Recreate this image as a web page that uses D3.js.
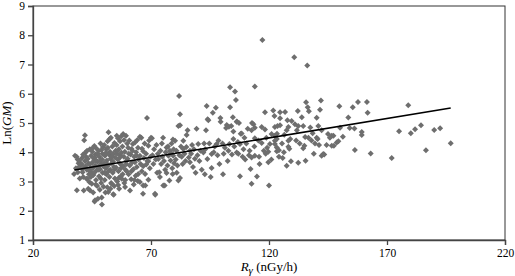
<!DOCTYPE html>
<html>
<head>
<meta charset="utf-8">
<script src="https://cdn.jsdelivr.net/npm/d3@7"></script>
<style>
  body { margin: 0; background: #fff; }
  text { font-family: "Liberation Serif", "Times New Roman", serif; }
</style>
</head>
<body>
<div id="chart"></div>
<script>
// x ticks / y ticks
var xTicks = [20, 70, 120, 170, 220];
var yTicks = [1, 2, 3, 4, 5, 6, 7, 8, 9];

// trend line: Ln(GM) = a + b * R
var trendA = 2.898, trendB = 0.01328;
var trendFrom = 37.5, trendTo = 197;

// R gamma (nGy/h)
var rGamma = [
  37.4,37.8,38.5,38.9,39.3,39.6,38.2,39.0,39.8,38.6,39.5,
  40.3,40.6,40.9,41.0,41.3,41.5,41.7,42.0,42.2,42.5,42.7,42.0,42.3,42.8,43.0,43.2,43.5,43.7,43.9,44.1,44.2,44.4,44.6,44.8,44.9,40.8,41.6,42.9,43.4,44.0,44.5,41.2,43.8,
  45.1,45.2,45.3,45.5,45.6,45.8,46.0,46.1,46.3,46.3,46.5,46.7,46.9,47.0,47.2,47.3,47.5,47.6,47.8,48.0,48.1,48.3,48.4,48.6,48.8,48.9,49.1,49.2,49.3,49.5,49.6,49.8,49.9,45.4,46.2,46.8,47.4,48.2,48.7,49.4,45.9,47.9,49.0,46.6,48.5,
  50.1,50.2,50.4,50.5,50.7,50.8,51.0,51.1,51.3,51.5,51.6,51.8,52.0,51.9,52.2,52.4,52.5,52.7,52.9,53.0,53.1,53.3,53.4,53.6,53.8,54.0,54.0,54.2,54.3,54.5,54.7,54.8,55.0,50.9,51.4,52.0,52.6,53.2,53.9,54.4,50.3,52.8,54.6,51.7,
  55.2,55.4,55.5,55.7,55.9,56.0,56.2,56.4,56.5,56.7,56.9,57.0,57.2,57.4,57.6,57.7,57.9,58.2,58.3,58.5,58.7,58.9,59.0,59.2,59.4,59.5,59.7,59.9,55.6,56.3,56.8,57.3,58.0,58.6,59.1,55.8,57.5,59.6,56.1,
  60.1,60.3,60.5,60.8,61.0,61.1,61.4,61.6,61.8,62.0,62.3,62.5,62.7,62.9,63.2,63.2,63.5,63.7,64.0,64.2,64.4,64.6,64.8,60.6,61.7,62.1,63.0,63.9,64.5,
  65.3,65.3,65.3,65.6,65.9,66.2,66.6,66.7,66.7,66.7,67.0,67.3,67.5,67.6,67.9,68.3,68.5,68.9,68.9,68.9,69.2,69.5,69.8,66.1,68.0,
  70.0,70.4,70.6,71.0,71.3,71.7,71.8,72.0,72.3,72.6,72.9,73.1,73.5,73.8,74.0,74.3,74.6,75.1,75.2,74.8,
  75.5,75.8,76.2,76.6,76.6,77.0,77.4,77.8,78.0,78.3,78.7,79.0,79.2,79.3,79.4,79.8,77.2,76.0,78.5,79.6,
  80.2,80.5,80.8,81.2,81.6,81.6,81.9,82.0,82.3,82.3,82.3,82.7,83.0,83.4,83.7,83.7,84.2,84.6,85.0,80.9,
  85.1,85.5,86.0,86.5,86.5,87.0,87.4,87.8,88.2,88.6,89.3,89.7,88.9,
  90.0,90.5,91.0,91.5,92.2,92.5,93.0,93.3,93.6,93.9,94.0,94.3,94.7,92.8,
  95.3,95.7,95.7,96.2,96.6,97.0,97.5,97.8,98.2,98.6,99.4,99.5,99.0,
  100.3,100.8,101.3,101.8,102.1,102.5,103.0,103.2,103.5,103.5,104.0,104.3,104.7,104.9,104.9,100.5,102.8,
  105.6,106.0,106.3,106.3,106.4,106.8,107.3,107.7,107.7,108.0,108.4,108.8,109.2,109.6,105.3,107.0,109.9,
  110.4,111.0,111.5,112.2,112.6,112.6,112.6,112.8,113.4,113.8,114.0,114.0,114.0,114.0,114.9,111.8,
  115.5,116.0,116.9,116.9,117.2,117.8,118.3,118.3,118.6,119.2,119.7,119.7,120.0,120.4,115.8,118.9,
  121.1,121.8,122.3,122.5,122.5,122.5,122.5,123.3,123.3,123.3,123.4,123.6,124.2,124.2,124.7,124.7,124.7,121.0,
  125.5,126.8,127.5,127.5,127.8,128.2,128.2,128.2,128.6,129.3,129.6,129.0,126.3,125.8,126.5,
  130.7,131.0,131.5,132.2,132.4,132.4,133.0,133.9,134.5,134.5,135.0,135.3,135.5,131.8,
  135.7,136.2,136.4,136.7,136.9,137.5,138.0,138.5,139.0,139.5,140.2,140.2,
  140.6,140.9,141.6,142.0,142.3,142.3,143.0,143.4,144.4,145.0,141.2,
  146.6,146.6,147.3,147.5,148.7,149.4,149.8,150.1,145.8,
  151.3,153.6,154.2,155.5,156.2,156.4,157.7,159.3,159.3,
  161.5,161.8,163.1,172.0,175.1,179.0,180.1,181.9,184.4,186.5,190.0,192.5,197.0
];

// Ln(GM), same order as rGamma
var lnGM = [
  3.26,3.88,3.85,3.75,3.62,3.71,3.45,3.32,3.10,2.70,3.50,
  3.58,3.60,3.42,3.32,3.15,2.69,4.41,4.58,3.99,3.85,3.09,3.70,3.53,3.40,3.09,3.78,3.62,3.25,2.98,4.10,2.69,3.46,3.88,3.30,2.92,3.80,3.48,4.05,2.75,3.58,3.15,3.92,3.38,
  3.65,4.02,3.45,2.62,3.22,3.78,4.21,2.32,2.36,3.55,3.92,3.05,3.38,4.12,2.85,3.68,2.41,3.50,4.05,3.18,3.85,2.72,3.42,4.30,3.60,2.95,2.45,2.21,3.75,3.30,4.18,3.52,2.82,4.15,3.82,3.70,3.95,3.55,3.10,3.95,3.30,3.40,4.08,2.90,3.72,
  3.62,4.25,3.05,3.88,2.62,3.45,4.10,3.25,3.72,2.80,4.38,3.55,4.68,2.64,3.92,3.15,4.45,3.40,3.78,4.50,2.95,2.92,3.62,4.20,3.30,2.56,3.95,2.55,3.50,4.32,3.10,3.82,4.05,3.98,3.60,3.35,4.02,3.85,3.68,2.85,3.30,2.75,3.42,4.15,
  3.48,4.25,4.56,3.00,3.75,4.48,3.35,4.10,2.75,3.62,4.38,3.90,3.18,4.55,3.09,3.55,4.20,4.62,3.52,3.85,2.95,4.02,2.81,3.40,4.56,3.70,3.35,4.30,3.95,3.12,3.82,3.45,3.25,4.42,3.05,4.05,3.98,3.60,2.88,
  3.78,4.15,3.25,4.40,3.55,2.69,3.92,3.08,4.11,3.65,4.28,3.42,2.90,3.85,3.66,4.33,3.20,4.00,3.50,4.42,3.02,3.26,3.75,3.95,3.35,4.05,3.05,3.88,4.15,
  3.88,2.98,4.53,3.60,4.50,4.12,2.58,4.03,3.52,2.86,3.80,4.30,3.26,2.86,3.95,5.17,3.70,4.22,3.69,3.06,4.40,3.45,3.85,3.35,3.58,
  4.50,4.48,3.90,3.60,4.10,2.58,2.55,3.75,4.25,3.30,3.95,3.77,3.32,3.15,4.05,3.60,4.30,4.50,2.86,3.85,
  3.70,2.86,4.00,4.16,3.29,3.55,3.88,3.03,4.05,3.72,4.30,3.45,3.26,4.44,3.88,3.62,4.20,3.40,3.98,4.10,
  4.39,3.75,4.05,3.55,4.90,3.03,5.92,3.90,5.30,4.92,3.12,4.20,3.85,3.60,4.39,4.11,3.95,3.70,4.18,3.30,
  4.59,4.75,3.82,4.05,3.66,3.95,4.25,3.50,4.10,3.78,4.80,3.90,3.30,
  4.28,3.70,4.05,3.40,3.99,4.30,4.10,4.75,5.58,3.77,5.13,5.09,4.30,3.25,
  3.15,3.94,3.46,5.35,4.00,4.20,5.52,4.28,3.90,4.40,5.17,5.04,3.60,
  4.30,3.95,4.15,4.83,4.93,3.70,4.87,4.28,6.22,5.54,4.90,3.92,5.20,4.71,4.45,3.25,4.05,
  6.08,5.79,5.04,3.99,5.05,4.35,5.00,4.28,3.18,4.63,4.64,3.85,4.10,4.50,4.20,3.95,3.75,
  4.30,4.80,3.90,3.43,4.75,3.82,2.92,5.00,4.96,4.20,6.25,4.84,4.48,3.88,3.17,4.05,
  4.40,3.60,4.86,4.32,7.84,4.05,4.78,5.37,3.95,4.15,4.02,3.66,2.86,4.28,3.85,4.50,
  4.62,5.43,5.24,4.86,4.56,4.39,4.28,4.45,4.16,4.03,4.63,4.90,4.07,3.85,5.37,5.16,4.92,3.75,
  4.30,5.38,4.75,3.54,5.09,4.86,4.39,4.19,4.12,3.69,5.07,4.45,4.00,3.80,4.60,
  7.25,4.96,4.40,5.41,4.90,3.64,4.30,5.20,4.90,4.14,4.22,4.52,3.71,4.75,
  5.71,6.97,5.54,4.50,5.40,4.85,4.40,4.65,3.95,4.30,5.18,4.50,
  4.45,4.90,5.45,5.77,4.75,3.88,3.94,3.92,4.25,4.62,4.25,
  4.56,4.22,4.56,4.22,4.33,4.38,5.57,4.84,4.50,
  4.53,5.19,4.83,5.54,4.81,4.08,5.72,4.69,4.59,
  5.72,5.35,3.96,3.80,4.72,5.61,4.65,4.79,4.92,4.07,4.76,4.82,4.31
];

var W = 515, H = 276;
var margin = {top: 6, right: 10, bottom: 36, left: 33};
var width = W - margin.left - margin.right,
    height = H - margin.top - margin.bottom;

var svg = d3.select("#chart").append("svg")
    .attr("width", W)
    .attr("height", H)
    .append("g")
    .attr("transform", "translate(" + margin.left + "," + margin.top + ")");

var x = d3.scaleLinear().domain([20, 220]).range([0, width]);
var y = d3.scaleLinear().domain([1, 9]).range([height, 0]);

// frame
svg.append("rect")
    .attr("x", 0).attr("y", 0)
    .attr("width", width).attr("height", height)
    .attr("fill", "none")
    .attr("stroke", "#333")
    .attr("stroke-width", 1);

var xAxis = svg.append("g")
    .attr("transform", "translate(0," + height + ")")
    .call(d3.axisBottom(x).tickValues(xTicks).tickSize(5).tickPadding(4));

var yAxis = svg.append("g")
    .call(d3.axisLeft(y).tickValues(yTicks).tickSize(5).tickPadding(3));

[xAxis, yAxis].forEach(function(a) {
    a.selectAll("path, line").attr("stroke", "#444").attr("stroke-width", 1.3);
    a.selectAll("text")
        .attr("fill", "#000")
        .style("font-family", "'Liberation Serif', serif")
        .style("font-size", "11.5px");
});

// points
var points = rGamma.map(function(r, i) { return {r: r, g: lnGM[i]}; });

svg.append("g")
    .selectAll("path")
    .data(points)
    .enter().append("path")
    .attr("d", "M0,-3L3,0L0,3L-3,0Z")
    .attr("transform", function(d) { return "translate(" + x(d.r) + "," + y(d.g) + ")"; })
    .attr("fill", "#6e6e6e");

// trend line
svg.append("line")
    .attr("x1", x(trendFrom)).attr("y1", y(trendA + trendB * trendFrom))
    .attr("x2", x(trendTo)).attr("y2", y(trendA + trendB * trendTo))
    .attr("stroke", "#000")
    .attr("stroke-width", 1.6);

// axis titles
var xt = svg.append("text")
    .attr("x", width / 2)
    .attr("y", height + 31)
    .attr("text-anchor", "middle")
    .style("font-size", "13px");
xt.append("tspan").style("font-style", "italic").text("R");
xt.append("tspan").style("font-style", "italic").attr("dy", 3).style("font-size", "11px").text("γ");
xt.append("tspan").attr("dy", -3).text(" (nGy/h)");

var yt = svg.append("text")
    .attr("transform", "translate(" + (-22) + "," + (height / 2) + ") rotate(-90)")
    .attr("text-anchor", "middle")
    .style("font-size", "13px");
yt.append("tspan").text("Ln(");
yt.append("tspan").style("font-style", "italic").text("GM");
yt.append("tspan").text(")");
</script>
</body>
</html>
